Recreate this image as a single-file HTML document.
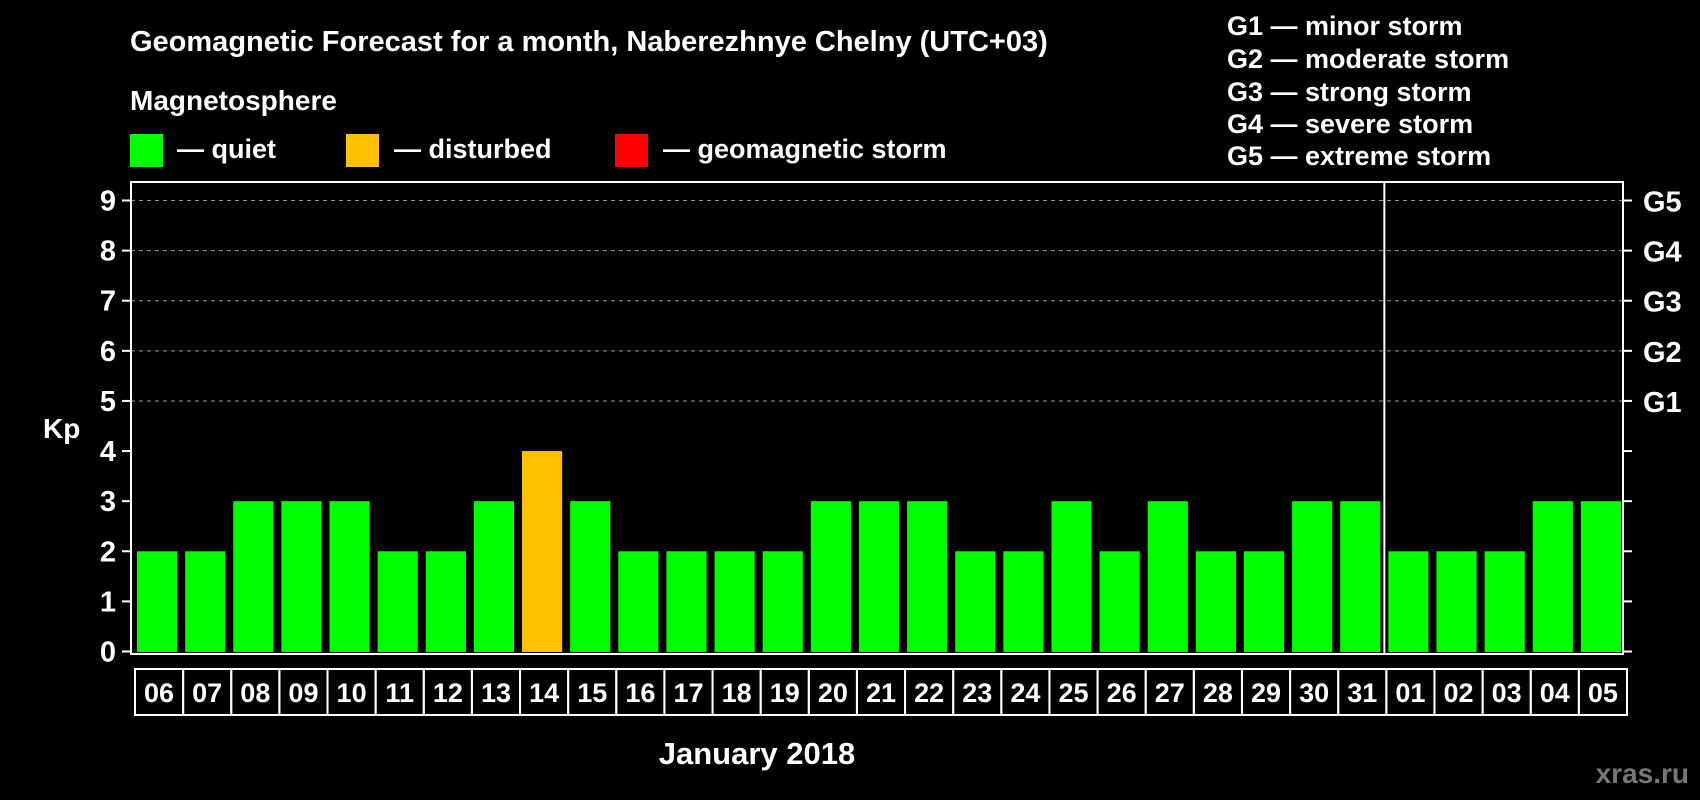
<!DOCTYPE html>
<html><head><meta charset="utf-8"><style>
body{margin:0;background:#000;}
svg{display:block;font-family:"Liberation Sans",Arial,sans-serif;font-weight:bold;}
</style></head><body>
<svg id="chart" width="1700" height="800" viewBox="0 0 1700 800">
<rect width="1700" height="800" fill="#000"/>
<text x="130" y="51" fill="#fff" font-size="29">Geomagnetic Forecast for a month, Naberezhnye Chelny (UTC+03)</text>
<text x="130" y="110" fill="#fff" font-size="28">Magnetosphere</text>
<rect x="130" y="134" width="33" height="33" fill="#00ff00"/>
<text x="177" y="158" fill="#fff" font-size="27">— quiet</text>
<rect x="346" y="134" width="33" height="33" fill="#ffc000"/>
<text x="394" y="158" fill="#fff" font-size="27">— disturbed</text>
<rect x="615" y="134" width="33" height="33" fill="#ff0000"/>
<text x="663" y="158" fill="#fff" font-size="27">— geomagnetic storm</text>
<g fill="#fff" font-size="27">
<text x="1227" y="35">G1 — minor storm</text>
<text x="1227" y="68">G2 — moderate storm</text>
<text x="1227" y="101">G3 — strong storm</text>
<text x="1227" y="133">G4 — severe storm</text>
<text x="1227" y="165">G5 — extreme storm</text>
</g>
<text x="43" y="438" fill="#fff" font-size="28">Kp</text>
<text x="757" y="764" fill="#fff" font-size="31" text-anchor="middle">January 2018</text>
<text x="1689" y="783" fill="#777" font-size="28" text-anchor="end">xras.ru</text>
<g id="plot"></g>
</svg>
<script>
const days=["06","07","08","09","10","11","12","13","14","15","16","17","18","19","20","21","22","23","24","25","26","27","28","29","30","31","01","02","03","04","05"];
const kp=[2,2,3,3,3,2,2,3,4,3,2,2,2,2,3,3,3,2,2,3,2,3,2,2,3,3,2,2,2,3,3];
const yTicks=[0,1,2,3,4,5,6,7,8,9];
const gLabels=["","","","","","G1","G2","G3","G4","G5"];
const monthBreak=26;
const NS="http://www.w3.org/2000/svg";
const L=131,R=1623,T=182,B=654;
const y0=651.5,unit=(651.5-200.5)/9;
const step=(R-L)/days.length;
function y(v){return y0-v*unit;}
function xs(i){return L+step*i;}
const g=document.getElementById('plot');
function mk(tag,attrs){const e=document.createElementNS(NS,tag);for(const k in attrs)e.setAttribute(k,attrs[k]);g.appendChild(e);return e;}
yTicks.forEach((t,i)=>{
 if(t>=5){const gl=mk('line',{x1:L,x2:R,y1:y(t),y2:y(t),stroke:'#999','stroke-dasharray':'4,4','stroke-width':1});
 
 }
 const lt=mk('line',{x1:L-9,x2:L,y1:y(t),y2:y(t),stroke:'#fff','stroke-width':2});
 
 
 const rt=mk('line',{x1:R,x2:R+9,y1:y(t),y2:y(t),stroke:'#fff','stroke-width':2});
 
 
 const tl=mk('text',{x:L-15,y:y(t)+10,fill:'#fff','font-size':29,'text-anchor':'end'});
 tl.textContent=t;
 
 
 if(gLabels[i]){const gt=mk('text',{x:R+20,y:y(t)+11,fill:'#fff','font-size':29});
 gt.textContent=gLabels[i];
 
 }
});
kp.forEach((v,i)=>{
 const c=v>=5?'#ff0000':(v>=4?'#ffc000':'#00ff00');
 const b=mk('rect',{x:xs(i)+6,y:y(v),width:step-8,height:B-2-y(v),fill:c});
 
 
 const box=mk('rect',{x:xs(i)+4,y:B+15,width:step,height:46,fill:'none',stroke:'#fff','stroke-width':2});
 
 
 const tx=mk('text',{x:xs(i)+step/2+4,y:B+48,fill:'#fff','font-size':27,'text-anchor':'middle'});
 tx.textContent=days[i];
 
 
});
const fr=mk('rect',{x:L,y:T,width:R-L,height:B-T,fill:'none',stroke:'#fff','stroke-width':2});


const ml=mk('line',{x1:xs(monthBreak)+2,x2:xs(monthBreak)+2,y1:T,y2:B,stroke:'#fff','stroke-width':2});


</script>
</body></html>
